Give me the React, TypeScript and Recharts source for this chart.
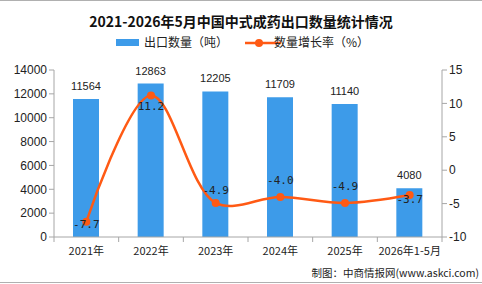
import { ComposedChart, Bar, Line, XAxis, YAxis, LabelList } from 'recharts';

// 2021-2026.5 TCM export volume
const years = ['2021年', '2022年', '2023年', '2024年', '2025年', '2026年1-5月'];
const exportTons = [11564, 12863, 12205, 11709, 11140, 4080];
const growthPct = [-7.7, 11.2, -4.9, -4.0, -4.9, -3.7];
const leftTicks = [0, 2000, 4000, 6000, 8000, 10000, 12000, 14000];
const rightTicks = [-10, -5, 0, 5, 10, 15];

// vertical nudge of each growth label relative to its point
const growthLabelDy = [3, 11, -12, -16, -16, 5];

const W = 482;
const H = 284;
const margin = { top: 70, right: 4, bottom: 17, left: 4 };
const LEFT_AXIS_W = 50;
const RIGHT_AXIS_W = 36;
const PLOT_W = W - margin.left - margin.right - LEFT_AXIS_W - RIGHT_AXIS_W;
const HALF_BAND = PLOT_W / years.length / 2;

const BAR_COLOR = '#3d9be9';
const LINE_COLOR = '#ff5a14';
const AXIS_COLOR = '#a6a6a6';
const CJK = '"Noto Sans CJK SC", sans-serif';

const data = years.map((name, i) => ({ name, tons: exportTons[i], pct: growthPct[i] }));

// centripetal catmull-rom (alpha 0.5): keeps the dips between uneven
// neighbours small while the long rise stays rounded at the top
const ALPHA = 0.5;
function centripetal(context: any) {
  let pts: number[][] = [];
  const dist = (a: number[], b: number[]) => Math.hypot(a[0] - b[0], a[1] - b[1]);
  return {
    areaStart() {},
    areaEnd() {},
    lineStart() {
      pts = [];
    },
    point(x: number, y: number) {
      pts.push([+x, +y]);
    },
    lineEnd() {
      const n = pts.length;
      if (!n) return;
      context.moveTo(pts[0][0], pts[0][1]);
      for (let i = 0; i < n - 1; i++) {
        const p0 = pts[i - 1] || pts[i];
        const p1 = pts[i];
        const p2 = pts[i + 1];
        const p3 = pts[i + 2] || p2;
        const l01 = Math.pow(dist(p0, p1), ALPHA);
        const l12 = Math.pow(dist(p1, p2), ALPHA);
        const l23 = Math.pow(dist(p2, p3), ALPHA);
        let c1 = p1;
        let c2 = p2;
        if (l01 > 1e-6) {
          const a = 2 * l01 * l01 + 3 * l01 * l12 + l12 * l12;
          const k = 3 * l01 * (l01 + l12);
          c1 = [0, 1].map((j) => (p1[j] * a - p0[j] * l12 * l12 + p2[j] * l01 * l01) / k);
        }
        if (l23 > 1e-6) {
          const b = 2 * l23 * l23 + 3 * l23 * l12 + l12 * l12;
          const m = 3 * l23 * (l23 + l12);
          c2 = [0, 1].map((j) => (p2[j] * b + p1[j] * l23 * l23 - p3[j] * l12 * l12) / m);
        }
        context.bezierCurveTo(c1[0], c1[1], c2[0], c2[1], p2[0], p2[1]);
      }
    },
  };
}

function CategoryTick(props: any) {
  const { x, y, payload, index } = props;
  return (
    <g>
      <line x1={x + HALF_BAND} x2={x + HALF_BAND} y1={y - 8} y2={y - 3} stroke={AXIS_COLOR} />
      {index === 0 && <line x1={x - HALF_BAND} x2={x - HALF_BAND} y1={y - 8} y2={y - 3} stroke={AXIS_COLOR} />}
      <text x={x} y={y + 10} textAnchor="middle" fontSize={11} fill="#222" fontFamily={CJK}>
        {payload.value}
      </text>
    </g>
  );
}

function GrowthLabel(props: any) {
  const { x, y, value, index } = props;
  return (
    <text
      x={x}
      y={y + growthLabelDy[index]}
      textAnchor="middle"
      dominantBaseline="central"
      fontSize={11}
      fill="#222"
      fontFamily="DejaVu Sans Mono, monospace"
    >
      {value.toFixed(1)}
    </text>
  );
}

export default function App() {
  return (
    <div style={{ position: 'absolute', left: 0, top: 0, width: W, height: H, overflow: 'hidden', background: '#fff' }}>
      <div style={{ position: 'absolute', left: 0, top: 0, width: W, height: 1, background: '#b0b0b0' }} />
      <div style={{ position: 'absolute', left: 0, top: H - 2, width: W, height: 1, background: '#b0b0b0' }} />
      <div
        style={{
          position: 'absolute', left: 0, top: 12, width: W, textAlign: 'center',
          fontFamily: CJK, fontWeight: 'bold', fontSize: 14, color: '#111', lineHeight: '18px',
        }}
      >
        2021-2026年5月中国中式成药出口数量统计情况
      </div>
      <svg style={{ position: 'absolute', left: 0, top: 34 }} width={W} height={18}>
        <rect x={116} y={5} width={23} height={7} fill={BAR_COLOR} />
        <text x={144} y={13} fontSize={12} fontFamily={CJK} fill="#222">出口数量（吨）</text>
        <line x1={245} x2={281} y1={9} y2={9} stroke={LINE_COLOR} strokeWidth={2.5} />
        <circle cx={259} cy={9} r={4} fill={LINE_COLOR} />
        <text x={274} y={13} fontSize={12} fontFamily={CJK} fill="#222">数量增长率（%）</text>
      </svg>
      <ComposedChart width={W} height={H} data={data} margin={margin} style={{ position: 'absolute', left: 0, top: 0 }}>
        <XAxis
          dataKey="name"
          height={30}
          axisLine={{ stroke: AXIS_COLOR }}
          tickLine={false}
          tick={<CategoryTick />}
          interval={0}
        />
        <YAxis
          yAxisId="left"
          width={LEFT_AXIS_W}
          domain={[0, 14000]}
          ticks={leftTicks}
          axisLine={{ stroke: AXIS_COLOR }}
          tickLine={{ stroke: AXIS_COLOR }}
          tickSize={5}
          tick={{ fontSize: 12, fill: '#222', fontFamily: 'Liberation Sans, Arial, sans-serif' }}
        />
        <YAxis
          yAxisId="right"
          orientation="right"
          width={RIGHT_AXIS_W}
          domain={[-10, 15]}
          ticks={rightTicks}
          axisLine={{ stroke: AXIS_COLOR }}
          tickLine={{ stroke: AXIS_COLOR }}
          tickSize={5}
          tick={{ fontSize: 12, fill: '#222', fontFamily: 'Liberation Sans, Arial, sans-serif' }}
        />
        <Bar yAxisId="left" dataKey="tons" fill={BAR_COLOR} barSize={26} isAnimationActive={false}>
          <LabelList
            dataKey="tons"
            position="top"
            offset={9}
            fontSize={11}
            fill="#222"
            fontFamily="Liberation Sans, Arial, sans-serif"
          />
        </Bar>
        <Line
          yAxisId="right"
          type={centripetal as any}
          dataKey="pct"
          stroke={LINE_COLOR}
          strokeWidth={2.5}
          dot={{ r: 4, fill: LINE_COLOR, stroke: LINE_COLOR, strokeWidth: 0 }}
          activeDot={false}
          isAnimationActive={false}
        >
          <LabelList dataKey="pct" content={<GrowthLabel />} />
        </Line>
      </ComposedChart>
      <div
        style={{
          position: 'absolute', right: 3, top: 265, whiteSpace: 'nowrap',
          fontFamily: CJK, fontSize: 10.5, color: '#222',
        }}
      >
        制图：中商情报网(www.askci.com)
      </div>
    </div>
  );
}
